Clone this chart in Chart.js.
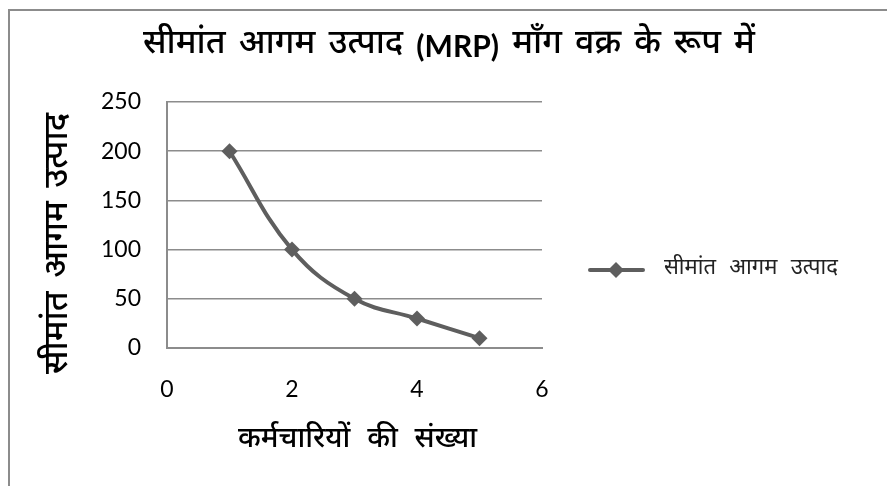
<!DOCTYPE html>
<html><head><meta charset="utf-8">
<script src="https://cdn.jsdelivr.net/npm/chart.js@4"></script>
<style>
html,body{margin:0;padding:0;background:#fff;overflow:hidden}
#wrap{position:relative;width:887px;height:486px}
#frame{position:absolute;left:8px;top:9px;width:900px;height:500px;border-left:2px solid #8c8c8c;border-top:2px solid #8c8c8c}
canvas{position:absolute;left:0;top:0}
</style></head>
<body><div id="wrap"><div id="frame"></div><canvas id="c" width="887" height="486"></canvas></div>
<script>
const chartTitleWords = ['सीमांत', 'आगम', 'उत्पाद', '(MRP)', 'माँग', 'वक्र', 'के', 'रूप', 'में'];
const seriesName = 'सीमांत आगम उत्पाद';
const xTitle = 'कर्मचारियों की संख्या';
const yTitle = 'सीमांत आगम उत्पाद';
const xValues = [1, 2, 3, 4, 5];
const yValues = [200, 100, 50, 30, 10];
const xTicks = [0, 2, 4, 6];
const yTicks = [0, 50, 100, 150, 200, 250];

const devFont = "'Noto Sans Devanagari','Lohit Devanagari','Mukta','Noto Sans',sans-serif";
const numFont = "Lato,'Open Sans',sans-serif";
const lineColor = '#5e5e5e';
const gridColor = '#8c8c8c';

const points = xValues.map((x, i) => ({x: x, y: yValues[i]}));

// draw words spread over a given width, starting at x0 (vertical middle at y)
function drawWords(ctx, words, x0, width, y, fontFor) {
  const widths = words.map(w => { ctx.font = fontFor(w); return ctx.measureText(w).width; });
  const sum = widths.reduce((a, b) => a + b, 0);
  const gap = words.length > 1 ? (width - sum) / (words.length - 1) : 0;
  let x = x0;
  ctx.textAlign = 'left';
  ctx.textBaseline = 'middle';
  words.forEach((w, i) => { ctx.font = fontFor(w); ctx.fillText(w, x, y); x += widths[i] + gap; });
}

const extras = {
  id: 'extras',
  afterDraw(chart) {
    const ctx = chart.ctx;
    ctx.save();
    ctx.fillStyle = '#000';
    drawWords(ctx, chartTitleWords, 143, 612, 47,
      w => /^[\x00-\x7f]+$/.test(w) ? "bold 30px " + numFont : "500 34px " + devFont);
    ctx.restore();
    ctx.save();
    ctx.fillStyle = '#000';
    drawWords(ctx, xTitle.split(' '), 238, 239, 442, () => "500 29px " + devFont);
    ctx.restore();
    ctx.save();
    ctx.translate(61, 374);
    ctx.rotate(-Math.PI / 2);
    ctx.fillStyle = '#000';
    drawWords(ctx, yTitle.split(' '), 0, 261, 0, () => "500 34px " + devFont);
    ctx.restore();
    ctx.save();
    const ly = 270;
    ctx.strokeStyle = lineColor;
    ctx.lineWidth = 4;
    ctx.lineCap = 'round';
    ctx.beginPath(); ctx.moveTo(590, ly); ctx.lineTo(643, ly); ctx.stroke();
    ctx.fillStyle = lineColor;
    ctx.beginPath();
    ctx.moveTo(616, ly - 8); ctx.lineTo(624, ly); ctx.lineTo(616, ly + 8); ctx.lineTo(608, ly);
    ctx.closePath(); ctx.fill();
    ctx.fillStyle = '#222';
    drawWords(ctx, seriesName.split(' '), 664, 174, ly, () => "22px " + devFont);
    ctx.restore();
  }
};

new Chart(document.getElementById('c'), {
  type: 'scatter',
  data: {
    datasets: [{
      label: seriesName,
      data: points,
      showLine: true,
      borderColor: lineColor,
      backgroundColor: lineColor,
      borderWidth: 4,
      tension: 0.4,
      pointStyle: 'rectRot',
      pointRadius: 8,
      pointHoverRadius: 8,
      pointBackgroundColor: lineColor,
      pointBorderColor: lineColor,
      pointBorderWidth: 0
    }]
  },
  options: {
    responsive: false,
    animation: false,
    devicePixelRatio: 1,
    layout: {padding: {left: 0, right: 345, top: 102, bottom: 0}},
    plugins: {
      legend: {display: false},
      tooltip: {enabled: false},
      title: {display: false}
    },
    scales: {
      x: {
        type: 'linear',
        min: 0, max: 6,
        afterBuildTicks(s) { s.ticks = xTicks.map(v => ({value: v})); },
        afterFit(s) { s.height = 138; },
        grid: {display: false, drawTicks: false},
        border: {display: true, color: gridColor, width: 2},
        ticks: {color: '#000', padding: 28, font: {family: numFont, size: 23}}
      },
      y: {
        min: 0, max: 250,
        afterBuildTicks(s) { s.ticks = yTicks.map(v => ({value: v})); },
        afterFit(s) { s.width = 167; },
        grid: {color: gridColor, lineWidth: 1.5, drawTicks: false},
        border: {display: true, color: gridColor, width: 2},
        ticks: {color: '#000', padding: 26, font: {family: numFont, size: 23}}
      }
    }
  },
  plugins: [extras]
});
</script>
</body></html>
